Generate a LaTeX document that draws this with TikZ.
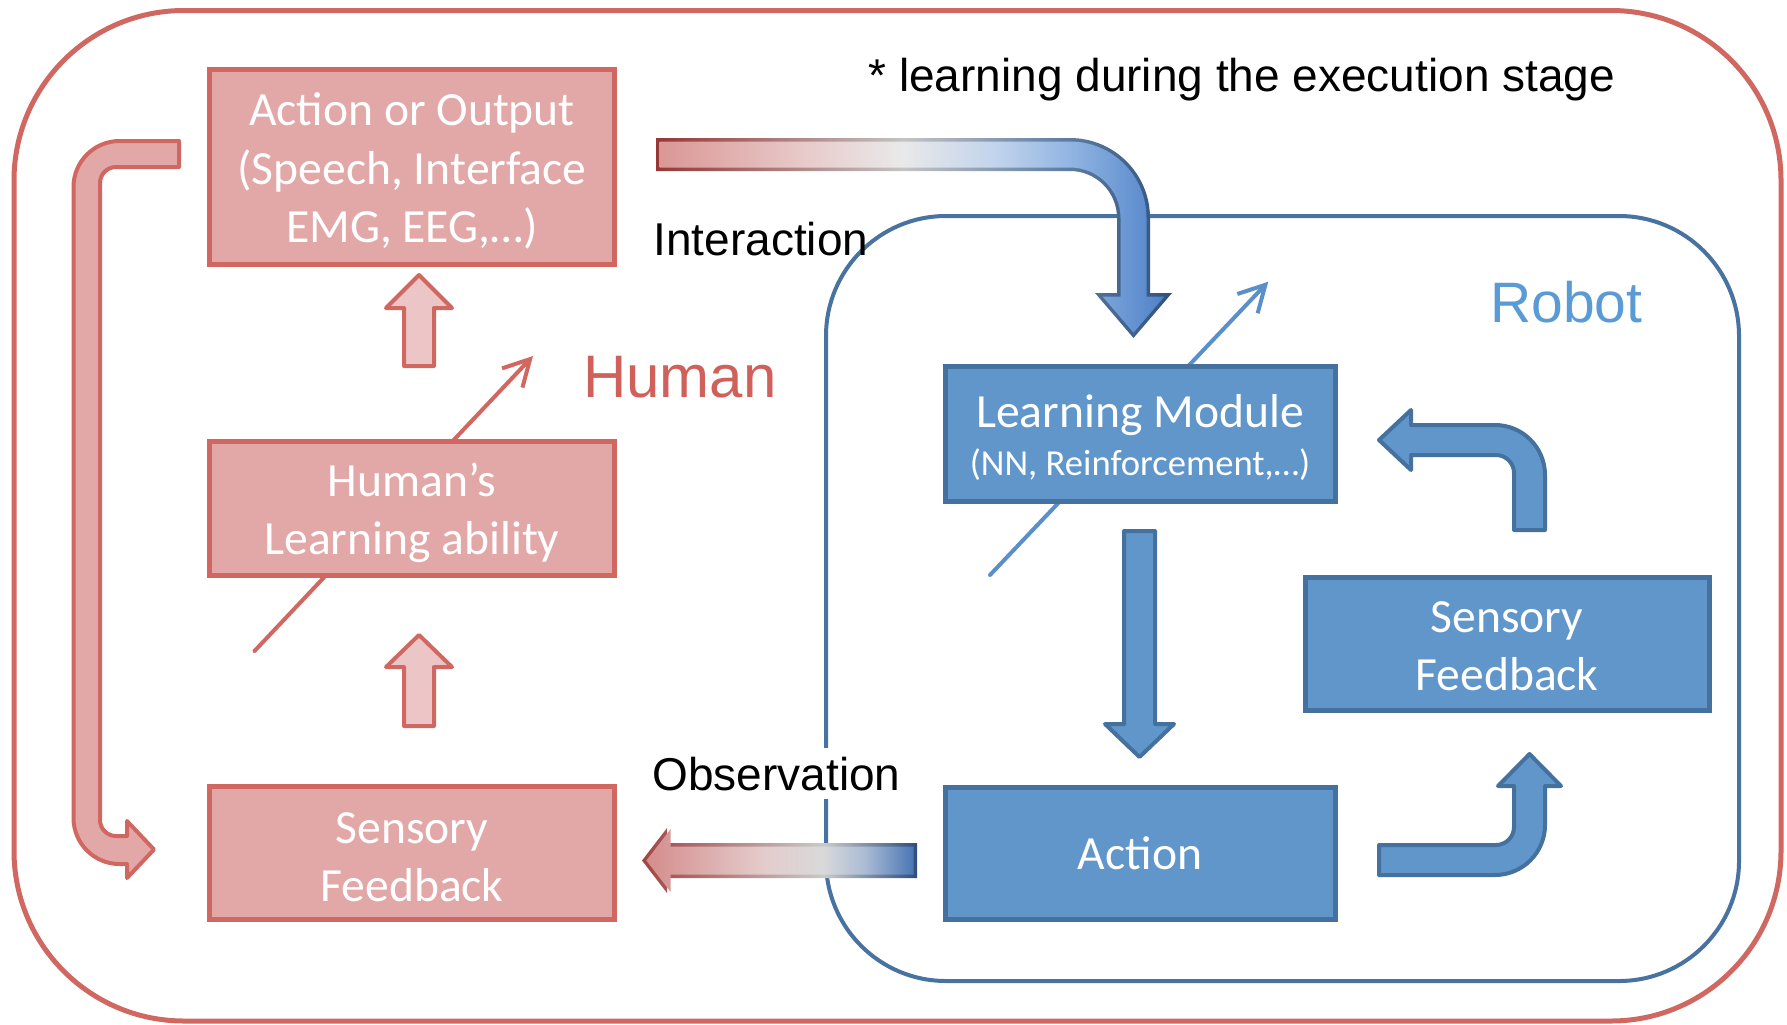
\documentclass[tikz,border=0pt]{standalone}
\usepackage{fontspec}
\setmainfont{Carlito}
\newfontfamily\helv{Liberation Sans}
\usetikzlibrary{arrows.meta}
\newdimen\px \px=0.5pt
\definecolor{hred}{HTML}{D06760}
\definecolor{hfill}{HTML}{E2A8A7}
\definecolor{hlight}{HTML}{ECC6C6}
\definecolor{hlabel}{HTML}{D0605A}
\definecolor{bborder}{HTML}{44719E}
\definecolor{bfill}{HTML}{6196CA}
\definecolor{bline}{HTML}{5B8FCA}
\definecolor{blabel}{HTML}{5B9BD5}
\definecolor{boutline}{HTML}{48729F}
% interaction arrow shading colours
\definecolor{ifA}{HTML}{DA9795}
\definecolor{ifB}{HTML}{E8C9C9}
\definecolor{ifC}{HTML}{E9E9E9}
\definecolor{ifD}{HTML}{C0D3EC}
\definecolor{ifE}{HTML}{8FB3E1}
\definecolor{ifF}{HTML}{4F82C8}
\definecolor{ibA}{HTML}{953735}
\definecolor{ibB}{HTML}{C4C4C4}
\definecolor{ibC}{HTML}{6A86A8}
\definecolor{ibD}{HTML}{2E5180}
% observation arrow shading colours
\definecolor{ofA}{HTML}{D48D8C}
\definecolor{ofB}{HTML}{E4CDCD}
\definecolor{ofC}{HTML}{D9D9D9}
\definecolor{ofD}{HTML}{A9BBD4}
\definecolor{ofE}{HTML}{4A76B4}
\definecolor{obA}{HTML}{A04543}
\definecolor{obB}{HTML}{CACACA}
\definecolor{obC}{HTML}{2D4E7C}
\pgfdeclarehorizontalshading{interfill}{100bp}{color(0bp)=(ifA); color(25bp)=(ifA); color(39bp)=(ifB); color(49bp)=(ifC); color(58.5bp)=(ifD); color(66bp)=(ifE); color(75bp)=(ifF); color(100bp)=(ifF)}
\pgfdeclarehorizontalshading{interborder}{100bp}{color(0bp)=(ibA); color(25bp)=(ibA); color(49bp)=(ibB); color(62.5bp)=(ibC); color(75bp)=(ibD); color(100bp)=(ibD)}
\pgfdeclarehorizontalshading{obsfill}{100bp}{color(0bp)=(ofA); color(25bp)=(ofA); color(47.5bp)=(ofB); color(58bp)=(ofC); color(66bp)=(ofD); color(75bp)=(ofE); color(100bp)=(ofE)}
\pgfdeclarehorizontalshading{obsborder}{100bp}{color(0bp)=(obA); color(25bp)=(obA); color(58bp)=(obB); color(75bp)=(obC); color(100bp)=(obC)}
\tikzset{
  boxtext/.style={text=white, align=center, inner sep=0pt, font=\fontsize{23.8pt}{29.1pt}\selectfont},
  hbox/.style={draw=hred, fill=hfill, line width=5\px, minimum width=405\px},
  bbox/.style={draw=bborder, fill=bfill, line width=5\px},
  harrow/.style={draw=hred, line width=4\px, line join=round},
  barrow/.style={draw=bborder, fill=bfill, line width=4\px, line join=round},
  lab/.style={inner sep=0pt, font=\helv\fontsize{23pt}{27pt}\selectfont},
  diag/.style={line width=4\px, line cap=round, -{Straight Barb[length=13pt,width=14pt]}},
}
\begin{document}
\begin{tikzpicture}[x=0.5pt,y=-0.5pt]
\useasboundingbox (0,0) rectangle (1787,1024);
% outer frame and robot frame
\draw[hred, line width=5\px, rounded corners=85pt] (14,10.5) rectangle (1781,1021);
\draw[boutline, line width=4\px, rounded corners=60pt] (826,216) rectangle (1739,981);
% diagonal "learning" arrows (behind the boxes)
\coordinate (hd0) at (254.5,651);
\coordinate (hd1) at (533,356);
\coordinate (rd0) at (990,575);
\coordinate (rd1) at (1268.3,281.7);
\draw[diag, hred] (hd0) -- (hd1);
\draw[diag, bline] (rd0) -- (rd1);
% human boxes
\node[hbox, minimum height=195\px] (HA) at (412,167) {};
\node[boxtext] (HAt) at ([yshift=-4\px]HA.center) {Action or Output\\(Speech, Interface\\EMG, EEG,…)};
\node[hbox, minimum height=134\px] (HL) at (412,508.5) {};
\node[boxtext] (HLt) at ([yshift=-4\px]HL.center) {Human’s\\Learning ability};
\node[hbox, minimum height=133\px] (HS) at (412,853) {};
\node[boxtext] (HSt) at ([yshift=-4\px]HS.center) {Sensory\\Feedback};
% robot boxes
\node[bbox, minimum width=390\px, minimum height=135\px] (RL) at (1140,433.5) {};
\node[boxtext] (RLt) at ([yshift=-4\px]RL.center) {Learning Module\\[-4.9pt]{\fontsize{18.3pt}{24pt}\selectfont (NN, Reinforcement,…)}};
\node[bbox, minimum width=390\px, minimum height=132\px] (RA) at (1140,853) {};
\node[boxtext] (RAt) at (RA.center) {Action};
\node[bbox, minimum width=404\px, minimum height=133\px] (RS) at (1507,643.5) {};
\node[boxtext] (RSt) at ([yshift=-3\px]RS.center) {Sensory\\Feedback};
% human up arrows
\draw[harrow, fill=hlight] (404,366) -- (404,308) -- (386,308) -- (419,275) -- (452,308) -- (434,308) -- (434,366) -- cycle;
\draw[harrow, fill=hlight] (404,726) -- (404,667) -- (386,667) -- (419,635) -- (452,667) -- (434,667) -- (434,726) -- cycle;
% human bent arrow (output -> sensory feedback)
\draw[harrow, fill=hfill] (179,141) -- (119.5,141) .. controls (94.1,141) and (73.5,161.6) .. (73.5,187) -- (73.5,818) .. controls (73.5,843.4) and (94.1,864) .. (119.5,864) -- (127,864) -- (127,878) -- (154,849.5) -- (127,821) -- (127,836) -- (116,836) .. controls (107.2,836) and (100,828.8) .. (100,820) -- (100,183) .. controls (100,174.2) and (107.2,167) .. (116,167) -- (179,167) -- cycle;
% robot arrows
\draw[barrow] (1124,531) -- (1155,531) -- (1155,724) -- (1174,724) -- (1139.5,757) -- (1105,724) -- (1124,724) -- cycle;
\draw[barrow] (1545,530) -- (1545,475) .. controls (1545,447.4) and (1522.6,425) .. (1495,425) -- (1411,425) -- (1411,410) -- (1379,440) -- (1411,470) -- (1411,455) -- (1496,455) .. controls (1505.9,455) and (1514,463.1) .. (1514,473) -- (1514,530) -- cycle;
\draw[barrow] (1379,845) -- (1496,845) .. controls (1505.9,845) and (1514,836.9) .. (1514,827) -- (1514,786) -- (1498,786) -- (1529.5,754) -- (1561,786) -- (1545,786) -- (1545,825) .. controls (1545,852.6) and (1522.6,875) .. (1495,875) -- (1379,875) -- cycle;
% interaction arrow (gradient)
\shade[shading=interborder] (656,138) -- (1070,138) .. controls (1114.2,138) and (1150,173.8) .. (1150,218) -- (1150,293) -- (1172,293) -- (1133.5,338) -- (1095,293) -- (1117,293) -- (1117,218) .. controls (1117,192) and (1096,171) .. (1070,171) -- (656,171) -- cycle;
\shade[shading=interfill] (659.5,141.5) -- (1070,141.5) .. controls (1112.25,141.5) and (1146.5,175.75) .. (1146.5,218) -- (1146.5,296.5) -- (1164.4,296.5) -- (1133.5,332.6) -- (1102.6,296.5) -- (1120.5,296.5) -- (1120.5,218) .. controls (1120.5,190.1) and (1097.9,167.5) .. (1070,167.5) -- (659.5,167.5) -- cycle;
% observation arrow (gradient)
\shade[shading=obsborder] (917,843) -- (667,843) -- (667,828) -- (642,860.5) -- (667,893) -- (667,878) -- (917,878) -- cycle;
\shade[shading=obsfill] (913.5,846.5) -- (670.5,846.5) -- (670.5,829.2) -- (646.4,860.5) -- (670.5,891.8) -- (670.5,874.5) -- (913.5,874.5) -- cycle;
% labels
\node[lab, anchor=base west] (inter) at (653,255) {Interaction};
\node[lab, anchor=base west, fill=white, inner xsep=2\px, inner ysep=9\px] (obs) at (650,790) {Observation};
\node[lab, anchor=base west] (note) at (868,91.7) {* learning during the execution stage};
\node[lab, anchor=base west, text=hlabel, font=\helv\fontsize{30pt}{36pt}\selectfont] (human) at (582.7,397.3) {Human};
\node[lab, anchor=base west, text=blabel, font=\helv\fontsize{28.5pt}{34pt}\selectfont] (robot) at (1490,322.7) {Robot};
\end{tikzpicture}
\end{document}
